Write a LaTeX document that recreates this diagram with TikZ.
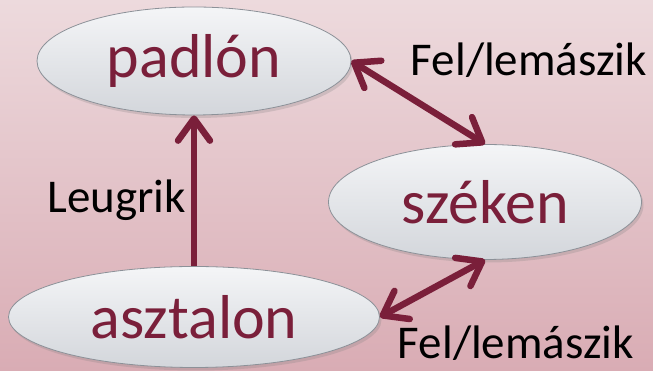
\documentclass[tikz,border=0pt]{standalone}
\usepackage{fontspec}
\setmainfont{Carlito}
\usetikzlibrary{shapes, positioning, arrows.meta, shadows}
\definecolor{bgtop}{RGB}{237,218,221}
\definecolor{bgbottom}{RGB}{217,172,180}
\definecolor{mymaroon}{RGB}{122,31,58}
\definecolor{ovaltop}{RGB}{244,245,247}
\definecolor{ovalbottom}{RGB}{211,214,219}
\definecolor{ovalline}{RGB}{140,145,152}
\tikzset{
  place/.style = {ellipse, inner sep = 0pt, draw = ovalline, thick,
                  top color = ovaltop, bottom color = ovalbottom,
                  text = mymaroon, font = \fontsize{62}{62}\selectfont,
                  drop shadow = {opacity = 0.25, shadow xshift = 2pt, shadow yshift = -3pt}},
  move/.style = {mymaroon, line width = 6.5pt,
                 arrows = {-Straight Barb[length = 22pt, width = 32pt, round]}},
  twoway/.style = {move, arrows = {Straight Barb[length = 22pt, width = 32pt, round]-Straight Barb[length = 22pt, width = 32pt, round]}},
  action/.style = {font = \fontsize{47}{47}\selectfont, text = black, inner sep = 0pt}
}

\begin{document}
\begin{tikzpicture}[x = 1pt, y = 1pt]
  \shade [top color = bgtop, bottom color = bgbottom] (0,0) rectangle (653,371);
  \useasboundingbox (0,0) rectangle (653,371);

  \node [place, minimum width = 314pt, minimum height = 108pt] (floor) at (194,310) {padlón};
  \node [place, minimum width = 313pt, minimum height = 115pt] (chair) at (485,169) {széken};
  \node [place, minimum width = 371pt, minimum height = 101pt] (table) at (194,54) {asztalon};

  \draw [move] (table.north) -- (floor.south);
  \draw [twoway] (floor.east) -- (chair.north);
  \draw [twoway] (table.east) -- (chair.south);

  \node [action, anchor = east] (jump) at (186,171) {Leugrik};
  \node [action] (climbtop) at (529,311) {Fel/lemászik};
  \node [action] (climbbottom) at (516,28) {Fel/lemászik};
\end{tikzpicture}
\end{document}
